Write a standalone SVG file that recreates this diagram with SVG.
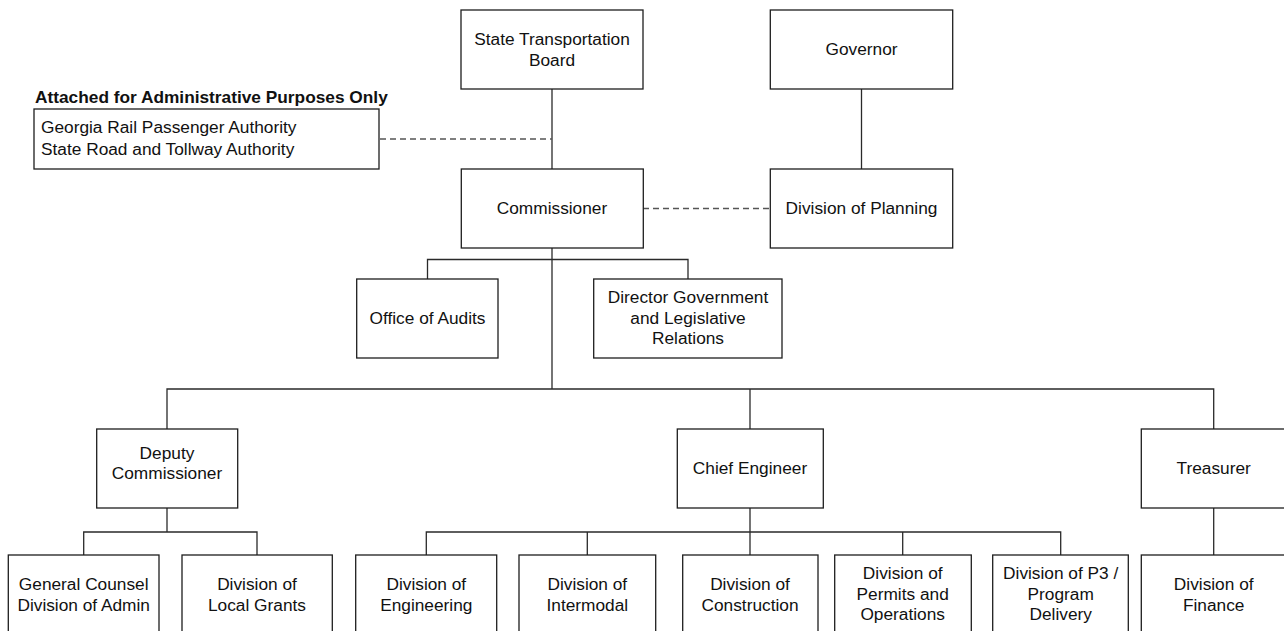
<svg xmlns="http://www.w3.org/2000/svg" width="1284" height="631" viewBox="0 0 1284 631">
<style>
.box{fill:#fff;stroke:#1e1e1e;stroke-width:1.3}
.t{font-family:"Liberation Sans",Arial,sans-serif;font-size:17.3px;fill:#111;text-anchor:middle}
.tl{font-family:"Liberation Sans",Arial,sans-serif;font-size:17.3px;fill:#111}
.b{font-weight:bold}
.ln{fill:none;stroke:#2a2a2a;stroke-width:1.3}
.ds{fill:none;stroke:#555;stroke-width:1.3;stroke-dasharray:6,4}
</style>
<rect width="1284" height="631" fill="#fff"/>
<g id="connectors">
<line class="ln" x1="552" y1="89" x2="552" y2="169"/>
<line class="ln" x1="861.5" y1="89" x2="861.5" y2="169"/>
<line class="ds" x1="380" y1="139" x2="552" y2="139"/>
<line class="ds" x1="643" y1="208.5" x2="770" y2="208.5"/>
<line class="ln" x1="552" y1="248" x2="552" y2="389"/>
<polyline class="ln" points="427.5,279 427.5,259.5 688,259.5 688,279"/>
<polyline class="ln" points="167,429 167,389 1213.7,389 1213.7,429"/>
<line class="ln" x1="750" y1="389" x2="750" y2="429"/>
<line class="ln" x1="167" y1="508" x2="167" y2="532"/>
<polyline class="ln" points="83.7,555 83.7,532 257,532 257,555"/>
<line class="ln" x1="750" y1="508" x2="750" y2="555"/>
<polyline class="ln" points="426.3,555 426.3,532 1060.7,532 1060.7,555"/>
<line class="ln" x1="587.3" y1="532" x2="587.3" y2="555"/>
<line class="ln" x1="902.7" y1="532" x2="902.7" y2="555"/>
<line class="ln" x1="1213.7" y1="508" x2="1213.7" y2="555"/>
</g>
<g id="stb"><rect class="box" x="461" y="10" width="182" height="79"/><text class="t" x="552" y="45">State Transportation</text><text class="t" x="552" y="66">Board</text></g>
<g id="governor"><rect class="box" x="770.3" y="10" width="182.4" height="79"/><text class="t" x="861.5" y="55">Governor</text></g>
<g id="attached"><text class="tl b" x="35" y="103.3">Attached for Administrative Purposes Only</text><rect class="box" x="34" y="109" width="345" height="60"/><text class="tl" x="41" y="133.3">Georgia Rail Passenger Authority</text><text class="tl" x="41" y="154.7">State Road and Tollway Authority</text></g>
<g id="commissioner"><rect class="box" x="461.3" y="169" width="182" height="79"/><text class="t" x="552" y="214">Commissioner</text></g>
<g id="planning"><rect class="box" x="770.3" y="169" width="182.4" height="79"/><text class="t" x="861.5" y="214">Division of Planning</text></g>
<g id="audits"><rect class="box" x="356.7" y="279" width="141.3" height="79"/><text class="t" x="427.5" y="323.5">Office of Audits</text></g>
<g id="dgl"><rect class="box" x="593.7" y="279" width="188.3" height="79"/><text class="t" x="688" y="302.8">Director Government</text><text class="t" x="688" y="323.5">and Legislative</text><text class="t" x="688" y="344.2">Relations</text></g>
<g id="deputy"><rect class="box" x="96.7" y="429" width="141" height="79"/><text class="t" x="167" y="458.5">Deputy</text><text class="t" x="167" y="479.2">Commissioner</text></g>
<g id="chief"><rect class="box" x="677.3" y="429" width="146" height="79"/><text class="t" x="750" y="474">Chief Engineer</text></g>
<g id="treasurer"><rect class="box" x="1141.3" y="429" width="145" height="79"/><text class="t" x="1213.7" y="474">Treasurer</text></g>
<g id="counsel"><rect class="box" x="8.3" y="555" width="150.7" height="79"/><text class="t" x="83.7" y="590">General Counsel</text><text class="t" x="83.7" y="610.7">Division of Admin</text></g>
<g id="grants"><rect class="box" x="182" y="555" width="150.3" height="79"/><text class="t" x="257" y="590">Division of</text><text class="t" x="257" y="610.7">Local Grants</text></g>
<g id="engineering"><rect class="box" x="355.7" y="555" width="141" height="79"/><text class="t" x="426.3" y="590">Division of</text><text class="t" x="426.3" y="610.7">Engineering</text></g>
<g id="intermodal"><rect class="box" x="519" y="555" width="136.7" height="79"/><text class="t" x="587.3" y="590">Division of</text><text class="t" x="587.3" y="610.7">Intermodal</text></g>
<g id="construction"><rect class="box" x="682.7" y="555" width="135.3" height="79"/><text class="t" x="750" y="590">Division of</text><text class="t" x="750" y="610.7">Construction</text></g>
<g id="permits"><rect class="box" x="834.7" y="555" width="136.6" height="79"/><text class="t" x="902.7" y="579">Division of</text><text class="t" x="902.7" y="599.5">Permits and</text><text class="t" x="902.7" y="620">Operations</text></g>
<g id="p3"><rect class="box" x="992.7" y="555" width="135.6" height="79"/><text class="t" x="1060.7" y="579">Division of P3 /</text><text class="t" x="1060.7" y="599.5">Program</text><text class="t" x="1060.7" y="620">Delivery</text></g>
<g id="finance"><rect class="box" x="1141.3" y="555" width="145" height="79"/><text class="t" x="1213.7" y="590">Division of</text><text class="t" x="1213.7" y="610.7">Finance</text></g>
</svg>
